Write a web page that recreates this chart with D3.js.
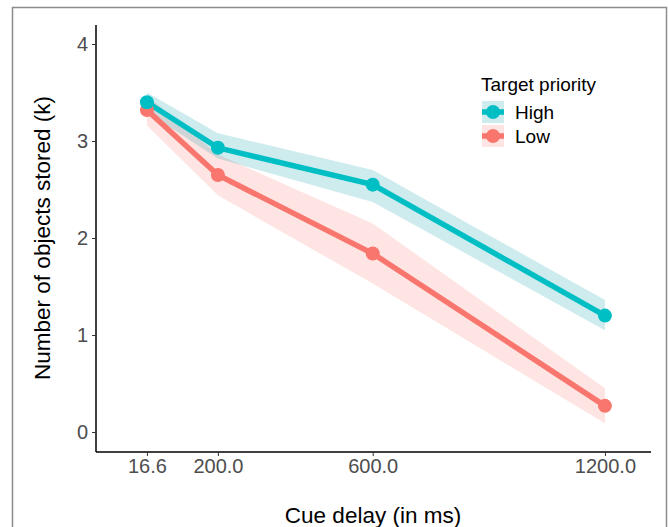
<!DOCTYPE html>
<html lang="en">
<head>
<meta charset="UTF-8">
<title>Cue delay chart</title>
<script src="https://d3js.org/d3.v7.min.js"></script>
<style>
  body { margin: 0; background: #fff; }
  text { font-family: "Liberation Sans", Arial, sans-serif; }
</style>
</head>
<body>
<div id="chart"></div>
<script>
// data
var delays = [16.6, 200, 600, 1200];
var tickLabels = ["16.6", "200.0", "600.0", "1200.0"];
var groups = ["High", "Low"];
var highMean = [3.40, 2.93, 2.55, 1.20];
var highLo   = [3.30, 2.82, 2.37, 1.05];
var highHi   = [3.50, 3.08, 2.70, 1.36];
var lowMean  = [3.32, 2.65, 1.84, 0.27];
var lowLo    = [3.16, 2.44, 1.53, 0.09];
var lowHi    = [3.47, 2.86, 2.15, 0.45];
var yTicks = [0, 1, 2, 3, 4];

var colors = {High: "#00BFC4", Low: "#F8766D"};
var ribbonColors = {High: "#0a9aa8", Low: "#F8766D"};

var W = 669, H = 527;
var svg = d3.select("#chart").append("svg")
  .attr("width", W).attr("height", H);

// outer frame
svg.append("rect")
  .attr("x", 12.5).attr("y", 7.5)
  .attr("width", 654).attr("height", 540)
  .attr("fill", "none").attr("stroke", "#8c8c8c").attr("stroke-width", 1.5);

var x = d3.scaleLinear().domain([-115, 1319]).range([96, 651]);
var y = d3.scaleLinear().domain([-0.206, 4.196]).range([452, 25]);

function rows(mean, lo, hi) {
  return delays.map(function(d, i) { return {x: d, y: mean[i], lo: lo[i], hi: hi[i]}; });
}
var series = [
  {name: "High", values: rows(highMean, highLo, highHi)},
  {name: "Low", values: rows(lowMean, lowLo, lowHi)}
];

var area = d3.area()
  .x(function(d) { return x(d.x); })
  .y0(function(d) { return y(d.lo); })
  .y1(function(d) { return y(d.hi); });
var line = d3.line()
  .x(function(d) { return x(d.x); })
  .y(function(d) { return y(d.y); });

// ribbons (Low first, then High on top as in the reference)
var order = [series[1], series[0]];
svg.selectAll(".ribbon").data(order).enter().append("path")
  .attr("class", "ribbon")
  .attr("d", function(s) { return area(s.values); })
  .attr("fill", function(s) { return ribbonColors[s.name]; })
  .attr("fill-opacity", 0.2);

svg.selectAll(".line").data(order).enter().append("path")
  .attr("class", "line")
  .attr("d", function(s) { return line(s.values); })
  .attr("fill", "none")
  .attr("stroke", function(s) { return colors[s.name]; })
  .attr("stroke-width", 5.5);

order.forEach(function(s) {
  svg.selectAll(null).data(s.values).enter().append("circle")
    .attr("cx", function(d) { return x(d.x); })
    .attr("cy", function(d) { return y(d.y); })
    .attr("r", 7)
    .attr("fill", colors[s.name]);
});

// axes
var xAxis = svg.append("g")
  .attr("transform", "translate(0,452)")
  .call(d3.axisBottom(x).tickValues(delays)
    .tickFormat(function(d, i) { return tickLabels[i]; })
    .tickSize(4).tickPadding(3));
var yAxis = svg.append("g")
  .attr("transform", "translate(96,0)")
  .call(d3.axisLeft(y).tickValues(yTicks).tickFormat(d3.format("d"))
    .tickSize(4).tickPadding(4));

[xAxis, yAxis].forEach(function(a) {
  a.select(".domain").attr("stroke", "#000").attr("stroke-width", 1.5)
    .attr("d", a === xAxis ? "M96,0H651" : "M0,25V452");
  a.selectAll(".tick line").attr("stroke", "#333").attr("stroke-width", 1);
  a.selectAll(".tick text").attr("fill", "#4d4d4d")
    .style("font-size", "20px").style("font-family", "Liberation Sans, Arial, sans-serif");
});

// axis titles
svg.append("text")
  .attr("x", 373).attr("y", 523)
  .attr("text-anchor", "middle")
  .style("font-size", "22.5px")
  .text("Cue delay (in ms)");
svg.append("text")
  .attr("transform", "translate(50,238) rotate(-90)")
  .attr("text-anchor", "middle")
  .style("font-size", "22.5px")
  .text("Number of objects stored (k)");

// legend
var legend = svg.append("g").attr("transform", "translate(481,0)");
legend.append("text")
  .attr("x", 0).attr("y", 91)
  .style("font-size", "19px")
  .text("Target priority");
groups.forEach(function(g, i) {
  var yy = 101 + i * 24;
  legend.append("rect")
    .attr("x", 1).attr("y", yy).attr("width", 22).attr("height", 22)
    .attr("fill", ribbonColors[g]).attr("fill-opacity", 0.2);
  legend.append("line")
    .attr("x1", 1).attr("x2", 23).attr("y1", yy + 11).attr("y2", yy + 11)
    .attr("stroke", colors[g]).attr("stroke-width", 5.5);
  legend.append("circle")
    .attr("cx", 12).attr("cy", yy + 11).attr("r", 7)
    .attr("fill", colors[g]);
  legend.append("text")
    .attr("x", 34).attr("y", yy + 18)
    .style("font-size", "19px")
    .text(g);
});
</script>
</body>
</html>
